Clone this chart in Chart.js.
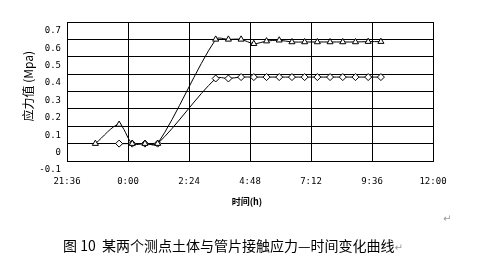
<!DOCTYPE html>
<html>
<head>
<meta charset="utf-8">
<script src="https://cdn.jsdelivr.net/npm/chart.js@4/dist/chart.umd.min.js"></script>
<style>
  body { margin: 0; background: #fff; }
  #wrap { position: relative; width: 481px; height: 256px; }
  #caption {
    position: absolute; left: 63px; top: 235px;
    font: 14px "Noto Sans CJK SC", sans-serif; color: #000; white-space: nowrap;
  }
  .ret { color: #999; font: 10px "DejaVu Sans", sans-serif; }
  #ret1 { position: absolute; left: 443px; top: 213px; }
</style>
</head>
<body>
<div id="wrap">
  <canvas id="stressChart" width="481" height="256"></canvas>
  <span id="ret1" class="ret">↵</span>
  <div id="caption">图 10&nbsp; 某两个测点土体与管片接触应力—时间变化曲线<span class="ret">↵</span></div>
</div>
<script>
// readings (time of day, stress in MPa)
const triTimes = ["22:43", "23:39", "0:10", "0:40", "1:10", "3:27", "3:57", "4:27", "4:57", "5:27",
  "5:57", "6:27", "6:57", "7:27", "7:57", "8:27", "8:57", "9:27", "9:57"];
const triStress = [0.0, 0.11, 0.0, 0.0, 0.0, 0.60, 0.60, 0.60, 0.575, 0.59,
  0.595, 0.585, 0.585, 0.585, 0.585, 0.585, 0.585, 0.587, 0.587];

const diaTimes = ["23:39", "0:10", "0:40", "1:10", "3:27", "3:57", "4:27", "4:57", "5:27",
  "5:57", "6:27", "6:57", "7:27", "7:57", "8:27", "8:57", "9:27", "9:57"];
const diaStress = [0.0, 0.0, 0.0, 0.0, 0.375, 0.375, 0.383, 0.383, 0.383,
  0.383, 0.383, 0.383, 0.383, 0.383, 0.383, 0.383, 0.383, 0.383];

const xTickLabels = ["21:36", "0:00", "2:24", "4:48", "7:12", "9:36", "12:00"];

// minutes from midnight, evening times belong to the day before
function toMinutes(t) {
  const [h, m] = t.split(":").map(Number);
  let v = h * 60 + m;
  if (v > 720) v -= 1440;
  return v;
}

const xMin = toMinutes(xTickLabels[0]);
const xMax = toMinutes(xTickLabels[xTickLabels.length - 1]);

function points(times, vals) {
  return times.map((t, i) => ({ x: toMinutes(t), y: vals[i] }));
}

const lineStyle = {
  borderColor: "#000",
  borderWidth: 1,
  backgroundColor: "#fff",
  pointBackgroundColor: "#fff",
  pointBorderColor: "#000",
  pointBorderWidth: 1,
  pointRadius: 3.5,
  tension: 0.3,
  fill: false
};

const tickFont = { family: "'DejaVu Sans Mono', monospace", size: 9 };

new Chart(document.getElementById("stressChart"), {
  type: "line",
  data: {
    datasets: [
      { label: "测点1", data: points(triTimes, triStress), pointStyle: "triangle", ...lineStyle },
      { label: "测点2", data: points(diaTimes, diaStress), pointStyle: "rectRot", ...lineStyle }
    ]
  },
  options: {
    responsive: false,
    animation: false,
    devicePixelRatio: 1,
    layout: { padding: { top: 22, right: 48, left: 0, bottom: 35 } },
    plugins: {
      legend: { display: false },
      tooltip: { enabled: false }
    },
    scales: {
      x: {
        type: "linear",
        min: xMin,
        max: xMax,
        afterFit: s => { s.height = 60; },
        ticks: {
          stepSize: 144,
          color: "#000",
          font: tickFont,
          padding: 15,
          maxRotation: 0,
          callback: v => {
            const m = ((v % 1440) + 1440) % 1440;
            return Math.floor(m / 60) + ":" + String(m % 60).padStart(2, "0");
          }
        },
        grid: { color: "#000", lineWidth: 1, drawTicks: false },
        border: { color: "#000", width: 1 },
        title: {
          display: true,
          text: "时间(h)   ",
          color: "#000",
          font: { family: "'Noto Sans CJK SC', sans-serif", size: 9, weight: "bold" },
          padding: { top: 0, bottom: 14 }
        }
      },
      y: {
        min: -0.1,
        max: 0.7,
        afterFit: s => { s.width = 67; },
        ticks: {
          stepSize: 0.1,
          color: "#000",
          font: tickFont,
          padding: 6,
          labelOffset: 9,
          callback: v => Math.round(v * 10) / 10
        },
        grid: { color: "#000", lineWidth: 1, drawTicks: false },
        border: { color: "#000", width: 1 },
        title: {
          display: true,
          text: "    应力值 (Mpa)",
          color: "#000",
          font: { family: "'Noto Sans CJK SC', sans-serif", size: 12 },
          padding: { top: 21, bottom: 0 }
        }
      }
    }
  }
});
</script>
</body>
</html>
